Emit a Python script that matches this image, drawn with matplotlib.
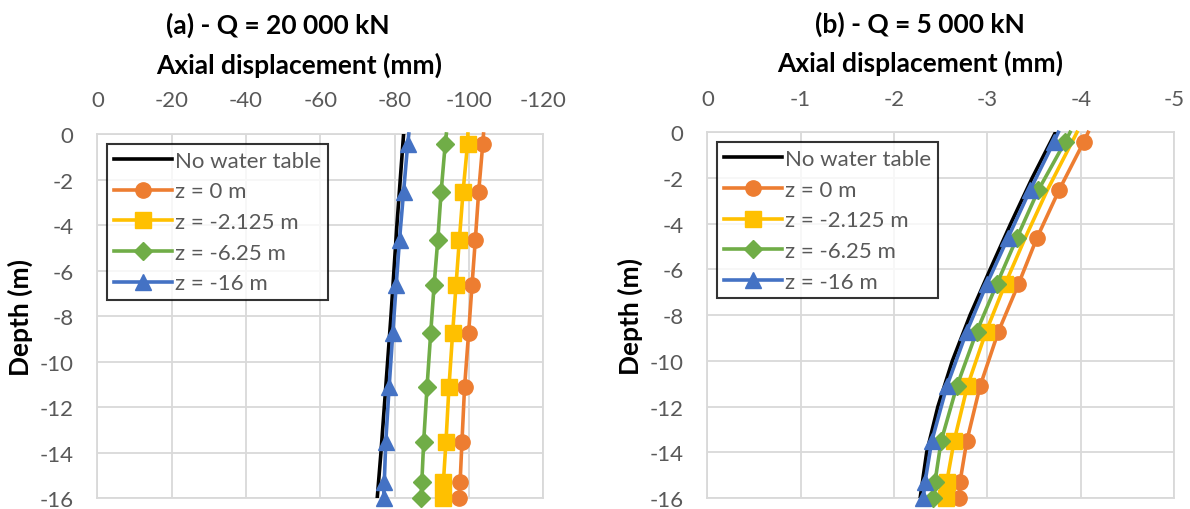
import matplotlib
matplotlib.use('Agg')
import matplotlib.pyplot as plt

plt.rcParams['font.family'] = ['Lato', 'DejaVu Sans']
plt.rcParams['axes.unicode_minus'] = False

# depth of the result points (first value = pile head, line only)
depth = [0.0, -0.44, -2.53, -4.64, -6.65, -8.72, -11.12, -13.52, -15.3, -16.0]
depth_ref = [0, -2, -4, -6, -8, -10, -12, -14, -16]

series_labels = ['z = 0 m', 'z = -2.125 m', 'z = -6.25 m', 'z = -16 m']

# (a) Q = 20 000 kN, displacement in mm
a_ref = [-82.4, -81.5, -80.6, -79.8, -79.0, -78.1, -77.2, -76.3, -75.3]
a_z0 = [-103.9, -103.7, -102.6, -101.7, -100.8, -99.9, -98.8, -98.1, -97.6, -97.3]
a_z2 = [-99.7, -99.6, -98.4, -97.4, -96.5, -95.6, -94.6, -93.8, -93.1, -93.0]
a_z6 = [-93.9, -93.6, -92.5, -91.6, -90.6, -89.7, -88.7, -87.8, -87.3, -87.1]
a_z16 = [-83.8, -83.5, -82.4, -81.3, -80.4, -79.5, -78.5, -77.6, -77.2, -77.0]

# (b) Q = 5 000 kN
b_ref = [-3.73, -3.48, -3.25, -3.03, -2.815, -2.625, -2.47, -2.35, -2.28]
b_z0 = [-4.08, -4.03, -3.768, -3.529, -3.332, -3.118, -2.921, -2.779, -2.707, -2.700]
b_z2 = [-3.96, -3.905, -3.642, -3.403, -3.189, -2.986, -2.785, -2.643, -2.565, -2.557]
b_z6 = [-3.886, -3.83, -3.546, -3.314, -3.100, -2.886, -2.672, -2.504, -2.439, -2.421]
b_z16 = [-3.76, -3.71, -3.457, -3.218, -2.993, -2.779, -2.565, -2.404, -2.332, -2.314]

colors = ['#ED7D31', '#FFC000', '#70AD47', '#4472C4']
markers = ['o', 's', 'D', '^']
msizes = [11, 11, 9, 12]
GRID = '#D9D9D9'
TXT = '#595959'


def draw_panel(ax, title, ref, curves, xmax, step, marks_from, title_x, label_x):
    ax.plot(ref, depth_ref, color='black', lw=2.6, label='No water table', zorder=3)
    for vals, lab, c, m, ms, start in zip(curves, series_labels, colors, markers, msizes, marks_from):
        ax.plot(vals, depth, color=c, lw=2.6, marker=m, markersize=ms,
                markevery=list(range(start, len(depth))), label=lab, clip_on=False, zorder=3)
    ax.set_xlim(0, xmax)
    ax.set_ylim(-16, 0)
    ax.set_xticks([-step * i for i in range(int(round(-xmax / step)) + 1)])
    ax.set_yticks(range(-16, 1, 2))
    ax.xaxis.tick_top()
    ax.xaxis.set_label_position('top')
    ax.tick_params(length=0, labelsize=16, labelcolor=TXT, pad=17)
    ax.grid(True, color=GRID, lw=1.3)
    for s in ax.spines.values():
        s.set_color(GRID)
        s.set_linewidth(1.3)
    ax.set_axisbelow(True)
    ax.set_xlabel('Axial displacement (mm)', fontsize=19, fontweight='bold', labelpad=13, x=label_x)
    ax.set_ylabel('Depth (m)', fontsize=19, fontweight='bold', labelpad=5)
    ax.set_title(title, fontsize=19, fontweight='bold', pad=13, x=title_x)
    leg = ax.legend(loc='upper left', fontsize=16, frameon=True, fancybox=False,
                    handlelength=2.6, borderaxespad=0.45, labelspacing=0.48,
                    handletextpad=0.15, borderpad=0.3)
    leg.get_frame().set_edgecolor('black')
    leg.get_frame().set_linewidth(1.5)
    for t in leg.get_texts():
        t.set_color(TXT)


fig = plt.figure(figsize=(11.9, 5.1), dpi=100)
ax1 = fig.add_axes([0.0818, 0.021, 0.3748, 0.7143])
ax2 = fig.add_axes([0.5944, 0.0216, 0.3922, 0.717])

draw_panel(ax1, '(a) - Q = 20 000 kN', a_ref, [a_z0, a_z2, a_z6, a_z16], -120, 20,
           [1, 1, 1, 1], 0.405, 0.452)
draw_panel(ax2, '(b) - Q = 5 000 kN', b_ref, [b_z0, b_z2, b_z6, b_z16], -5, 1,
           [1, 4, 1, 1], 0.456, 0.456)

fig.savefig('out.png', dpi=100)
